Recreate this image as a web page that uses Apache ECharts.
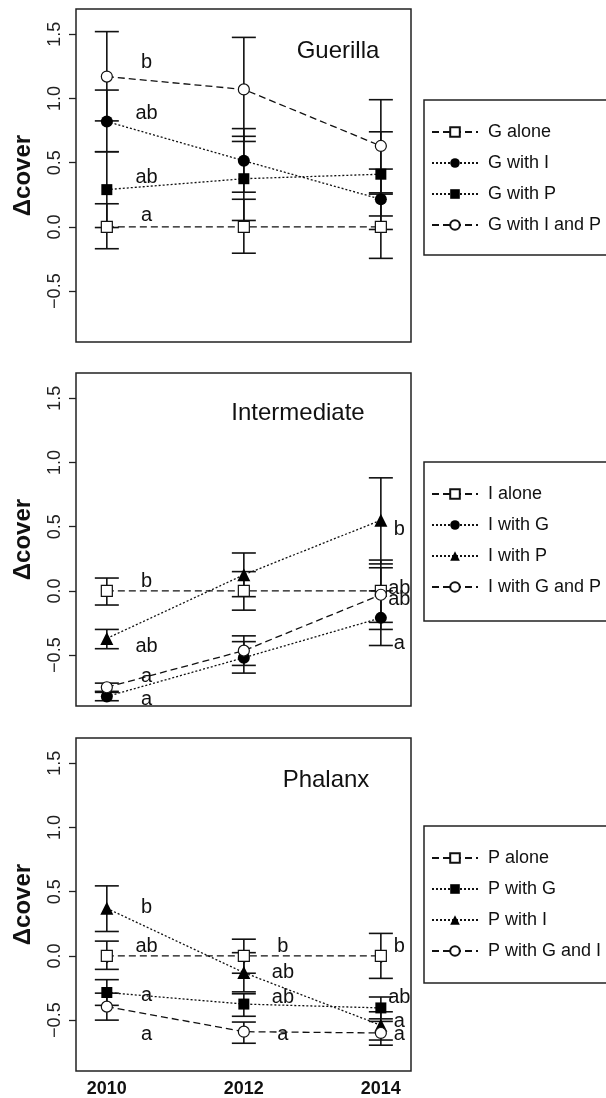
<!DOCTYPE html>
<html>
<head>
<meta charset="utf-8">
<script src="https://cdn.jsdelivr.net/npm/echarts@6/dist/echarts.min.js"></script>
<style>
  html, body { margin: 0; padding: 0; background: #fff; }
  #main { width: 606px; height: 1098px; }
</style>
</head>
<body>
<div id="main"></div>
<script>
// years on the x axis
var years = [2010, 2012, 2014];
var yTicks = [-0.5, 0, 0.5, 1, 1.5];

// Guerilla panel
var gNames = ['G alone', 'G with I', 'G with P', 'G with I and P'];
var gAlone = [0, 0, 0],           gAloneLo = [-0.17, -0.205, -0.245], gAloneHi = [0.18, 0.215, 0.255];
var gWithI = [0.82, 0.515, 0.215], gWithILo = [0.585, 0.27, -0.02],   gWithIHi = [1.065, 0.765, 0.45];
var gWithP = [0.29, 0.375, 0.41],  gWithPLo = [-0.005, 0.05, 0.085],  gWithPHi = [0.585, 0.705, 0.74];
var gWithIP = [1.17, 1.07, 0.63],  gWithIPLo = [0.825, 0.665, 0.265], gWithIPHi = [1.52, 1.475, 0.99];
var gLetters = [[2010.58, 1.28, 'b'], [2010.58, 0.88, 'ab'], [2010.58, 0.385, 'ab'], [2010.58, 0.09, 'a']];

// Intermediate panel
var iNames = ['I alone', 'I with G', 'I with P', 'I with G and P'];
var iAlone = [0, 0, 0],              iAloneLo = [-0.11, -0.15, -0.3],    iAloneHi = [0.1, 0.15, 0.24];
var iWithG = [-0.822, -0.52, -0.21], iWithGLo = [-0.855, -0.64, -0.425], iWithGHi = [-0.79, -0.395, 0.0];
var iWithP = [-0.37, 0.125, 0.55],   iWithPLo = [-0.45, -0.045, 0.21],   iWithPHi = [-0.3, 0.295, 0.88];
var iWithGP = [-0.75, -0.465, -0.03], iWithGPLo = [-0.782, -0.58, -0.245], iWithGPHi = [-0.718, -0.35, 0.18];
var iLetters = [[2010.58, 0.07, 'b'], [2010.58, -0.435, 'ab'], [2010.58, -0.665, 'a'], [2010.58, -0.845, 'a'],
                [2014.27, 0.48, 'b'], [2014.27, 0.02, 'ab'], [2014.27, -0.07, 'ab'], [2014.27, -0.41, 'a']];

// Phalanx panel
var pNames = ['P alone', 'P with G', 'P with I', 'P with G and I'];
var pAlone = [0, 0, 0],               pAloneLo = [-0.105, -0.135, -0.175], pAloneHi = [0.115, 0.13, 0.175];
var pWithG = [-0.285, -0.375, -0.405], pWithGLo = [-0.385, -0.47, -0.49],  pWithGHi = [-0.185, -0.295, -0.32];
var pWithI = [0.37, -0.13, -0.54],    pWithILo = [0.19, -0.28, -0.655],    pWithIHi = [0.545, 0.025, -0.435];
var pWithGI = [-0.395, -0.59, -0.6],  pWithGILo = [-0.5, -0.68, -0.695],   pWithGIHi = [-0.29, -0.515, -0.51];
var pLetters = [[2010.58, 0.375, 'b'], [2010.58, 0.075, 'ab'], [2010.58, -0.31, 'a'], [2010.58, -0.615, 'a'],
                [2012.57, 0.075, 'b'], [2012.57, -0.13, 'ab'], [2012.57, -0.32, 'ab'], [2012.57, -0.615, 'a'],
                [2014.27, 0.075, 'b'], [2014.27, -0.325, 'ab'], [2014.27, -0.51, 'a'], [2014.27, -0.61, 'a']];

var FONT = 'Liberation Sans, Arial, Helvetica, sans-serif';

// marker / line looks
var dashed = { color: '#111', width: 1.3, type: [7, 4] };
var dotted = { color: '#111', width: 1.3, type: [2, 2] };
var openSquare = { symbol: 'rect', symbolSize: 11, itemStyle: { color: '#fff', borderColor: '#111', borderWidth: 1.2 } };
var filledCircle = { symbol: 'circle', symbolSize: 12, itemStyle: { color: '#000', borderColor: '#000', borderWidth: 0 } };
var filledSquare = { symbol: 'rect', symbolSize: 11, itemStyle: { color: '#000', borderColor: '#000', borderWidth: 0 } };
var filledTri = { symbol: 'triangle', symbolSize: 13, itemStyle: { color: '#000', borderColor: '#000', borderWidth: 0 } };
var openCircle = { symbol: 'circle', symbolSize: 11, itemStyle: { color: '#fff', borderColor: '#111', borderWidth: 1.2 } };

var series = [];

function addPanel(idx, names, vals, los, his, looks, lines, letters) {
    for (var k = 0; k < names.length; k++) {
        // error bars
        series.push({
            type: 'custom',
            xAxisIndex: idx, yAxisIndex: idx,
            z: 2, silent: true,
            data: years.map(function (y, i) { return [y, los[k][i], his[k][i]]; }),
            encode: { x: 0, y: [1, 2] },
            renderItem: function (params, api) {
                var lo = api.coord([api.value(0), api.value(1)]);
                var hi = api.coord([api.value(0), api.value(2)]);
                var w = 12;
                var st = { stroke: '#111', lineWidth: 1.6 };
                return {
                    type: 'group',
                    children: [
                        { type: 'line', shape: { x1: lo[0], y1: lo[1], x2: hi[0], y2: hi[1] }, style: st },
                        { type: 'line', shape: { x1: lo[0] - w, y1: lo[1], x2: lo[0] + w, y2: lo[1] }, style: st },
                        { type: 'line', shape: { x1: hi[0] - w, y1: hi[1], x2: hi[0] + w, y2: hi[1] }, style: st }
                    ]
                };
            }
        });
        var look = looks[k];
        series.push({
            name: names[k],
            type: 'line',
            xAxisIndex: idx, yAxisIndex: idx,
            z: 3,
            symbol: look.symbol,
            symbolSize: look.symbolSize,
            showAllSymbol: true,
            itemStyle: look.itemStyle,
            lineStyle: lines[k],
            emphasis: { disabled: true },
            data: years.map(function (y, i) { return [y, vals[k][i]]; })
        });
    }
    // significance letters
    series.push({
        type: 'custom',
        xAxisIndex: idx, yAxisIndex: idx,
        z: 4, silent: true,
        data: letters,
        encode: { x: 0, y: 1 },
        renderItem: function (params, api) {
            var p = api.coord([api.value(0), api.value(1)]);
            return {
                type: 'text', x: p[0], y: p[1],
                style: {
                    text: letters[params.dataIndex][2], fill: '#111',
                    font: '20px ' + FONT, align: 'center', verticalAlign: 'middle'
                }
            };
        }
    });
}

addPanel(0, gNames, [gAlone, gWithI, gWithP, gWithIP], [gAloneLo, gWithILo, gWithPLo, gWithIPLo],
    [gAloneHi, gWithIHi, gWithPHi, gWithIPHi], [openSquare, filledCircle, filledSquare, openCircle],
    [dashed, dotted, dotted, dashed], gLetters);
addPanel(1, iNames, [iAlone, iWithG, iWithP, iWithGP], [iAloneLo, iWithGLo, iWithPLo, iWithGPLo],
    [iAloneHi, iWithGHi, iWithPHi, iWithGPHi], [openSquare, filledCircle, filledTri, openCircle],
    [dashed, dotted, dotted, dashed], iLetters);
addPanel(2, pNames, [pAlone, pWithG, pWithI, pWithGI], [pAloneLo, pWithGLo, pWithILo, pWithGILo],
    [pAloneHi, pWithGHi, pWithIHi, pWithGIHi], [openSquare, filledSquare, filledTri, openCircle],
    [dashed, dotted, dotted, dashed], pLetters);

var gridTops = [9, 373, 738];
var grids = gridTops.map(function (t) {
    return {
        left: 76, top: t, width: 335, height: 333,
        show: true, borderColor: '#222', borderWidth: 1.5, backgroundColor: 'transparent',
        containLabel: false, outerBoundsMode: 'none'
    };
});

var xAxes = [0, 1, 2].map(function (i) {
    return {
        type: 'value', gridIndex: i, min: 2009.55, max: 2014.44,
        axisLine: { show: false },
        splitLine: { show: false },
        axisTick: { show: i === 2, length: 7, inside: false, customValues: years, lineStyle: { color: '#222', width: 1.3 } },
        axisLabel: {
            show: i === 2, customValues: years, margin: 9,
            fontSize: 18, fontWeight: 'bold', color: '#111', fontFamily: FONT,
            formatter: function (v) { return String(Math.round(v)); }
        }
    };
});

var yAxes = [0, 1, 2].map(function (i) {
    return {
        type: 'value', gridIndex: i, min: -0.896, max: 1.696,
        name: 'Δcover', nameLocation: 'middle', nameRotate: 90, nameGap: 41,
        nameTextStyle: { fontSize: 24, fontWeight: 'bold', color: '#111', fontFamily: FONT },
        axisLine: { show: false },
        splitLine: { show: false },
        axisTick: { show: true, length: 7, customValues: yTicks, lineStyle: { color: '#222', width: 1.3 } },
        axisLabel: {
            customValues: yTicks, rotate: 90, margin: 12,
            fontSize: 18, color: '#222', fontFamily: FONT,
            formatter: function (v) { return v.toFixed(1).replace('-', '\u2212'); }
        }
    };
});

var legendTops = [122, 484, 848];
var panelNames = [gNames, iNames, pNames];
var legends = [0, 1, 2].map(function (i) {
    return {
        orient: 'vertical', left: 431, top: legendTops[i], padding: 0,
        itemWidth: 46, itemHeight: 12, itemGap: 11,
        selectedMode: false,
        data: panelNames[i],
        textStyle: { fontSize: 18, color: '#111', fontFamily: FONT, lineHeight: 20, padding: [0, 0, 0, 5] }
    };
});

var titleTexts = [['Guerilla', 338, 51], ['Intermediate', 298, 413], ['Phalanx', 326, 780]];
var legendBoxes = [[100, 155], [462, 159], [826, 157]];
var graphics = [];
titleTexts.forEach(function (t) {
    graphics.push({
        type: 'text', x: t[1], y: t[2],
        style: { text: t[0], fontSize: 24, fontFamily: FONT, fill: '#111', align: 'center', verticalAlign: 'middle' }
    });
});
legendBoxes.forEach(function (b) {
    graphics.push({
        type: 'rect', shape: { x: 424, y: b[0], width: 220, height: b[1] },
        style: { fill: 'none', stroke: '#222', lineWidth: 1.5 }
    });
});

var myChart = echarts.init(document.getElementById('main'), null, { renderer: 'canvas' });
myChart.setOption({
    backgroundColor: '#fff',
    animation: false,
    textStyle: { fontFamily: FONT },
    grid: grids,
    xAxis: xAxes,
    yAxis: yAxes,
    legend: legends,
    graphic: graphics,
    series: series
});
</script>
</body>
</html>
